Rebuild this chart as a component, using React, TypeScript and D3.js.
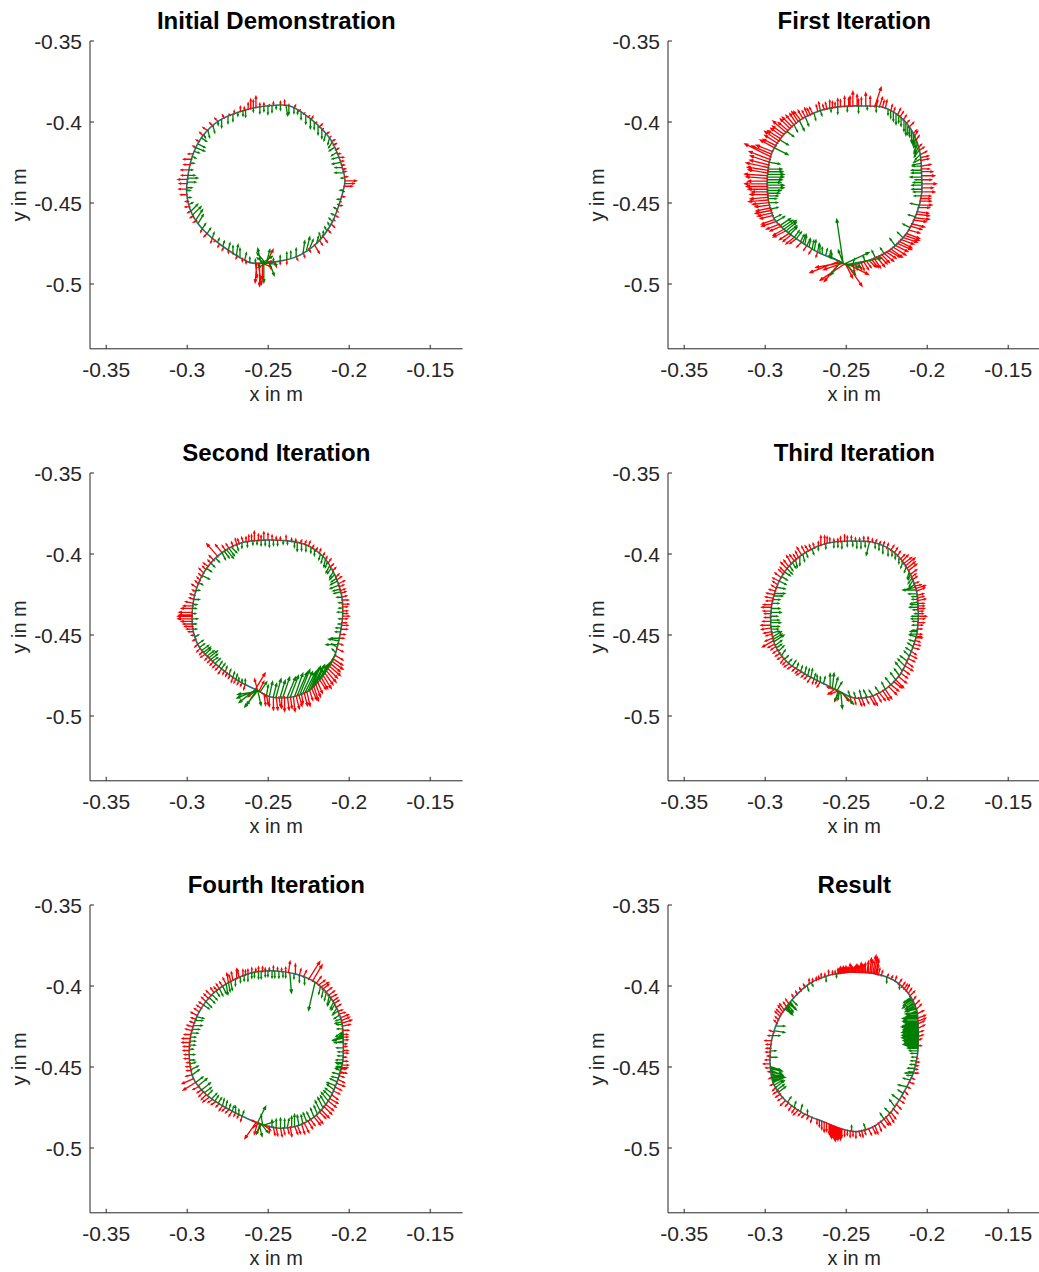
import React from 'react';
import * as d3 from 'd3';

type Pt = [number, number];
type Arrow = [number, number, number]; // [angle on path (deg), u (mm), v (mm)]

const titles = ['Initial Demonstration', 'First Iteration', 'Second Iteration', 'Third Iteration', 'Fourth Iteration', 'Result'];
const xTicks = [-0.35, -0.3, -0.25, -0.2, -0.15];
const xTickLabels = ['-0.35', '-0.3', '-0.25', '-0.2', '-0.15'];
const yTicks = [-0.5, -0.45, -0.4, -0.35];
const yTickLabels = ['-0.5', '-0.45', '-0.4', '-0.35'];
const xDomain: Pt = [-0.36, -0.13];
const yDomain: Pt = [-0.54, -0.35];

// ---------- Initial Demonstration (mm) ----------
const centerInitial: Pt = [-251, -438];
const pathInitial: Pt[] = [[-242.7,-389.5],[-236.5,-390.1],[-224.2,-397.7],[-211.9,-410.1],[-205.7,-423.5],[-202.6,-435.8],[-203.6,-442],[-206.7,-452.3],[-210.8,-462.5],[-220.1,-474.9],[-232.4,-483.1],[-244.8,-486.2],[-255,-487.2],[-261.2,-486.8],[-277.7,-477],[-290,-466.7],[-297.2,-456.4],[-300.3,-444],[-299.3,-431.7],[-296.2,-419.3],[-290,-408],[-279.8,-398.8],[-267.4,-393.6],[-255,-390.6]];
const redInitial: Arrow[] = [[2,7,0],[0,6,0],[-2,5,0],[5,2,0],[-10,2,0],[-17,2,0],[-25,2,-1],[-32,2,-2],[-43,3,-4],[-47,2,-3],[-52,3,-5],[-62,1,-3],[-75,0,-3],[-80,0,-2],[-84,1,-3],
[-95,0,-14],[-97,-1,-12],[-93,0,-10],[-96,2,-13],[-92,5,1],[-90,4,8],[-94,6,-2],[-98,1,-9],
[-105,0,-2],[-112,-1,-2],[-120,0,-2],[-128,-1,-2],[-135,-1,-3],[-140,-2,-2],[-145,-1,-2],[-152,-2,-1],[-160,-2,-1],[-167,-2,0],
[-172,-4,0],[-176,-5,0],[180,-5,0],[177,-6,0],[174,-4,0],[170,-5,0],[166,-4,0],[162,-5,0],[158,-3,0],[153,-2,1],[148,-2,1],[143,-2,2],[138,-3,2],[133,-2,2],[128,-2,2],[123,-1,2],
[115,0,2],[110,0,3],[104,0,4],[102,0,6],[100,0,5],[98,0,7],[92,0,2],[85,0,2],[80,0,2],[77,0,3],[70,1,2],[62,1,1],[55,1,2],[47,2,2],[40,2,1],[33,2,1],[26,2,1],[20,3,0],[14,2,0],[9,2,0],
[-6,1,0],[-14,1,0],[-21,1,-1],[-28,1,-1],[-37,2,-2],[-57,1,-2],[-68,1,-2],[-88,1,-4],[-108,0,-2],[-116,0,-1],[-124,-1,-2],[-132,-1,-1],[-156,-2,-1],[-163,-3,0],[118,-1,1],[107,0,2],[95,0,2],[88,0,1],[74,0,1],[66,1,1],[58,1,1],[51,1,1],[44,1,1],[36,1,1],[30,2,1],[23,2,0],[17,2,0],[11,2,0]];
const greenInitial: Arrow[] = [[8,-5,0],[12,-4,0],[16,-5,-1],[20,-4,-1],[24,-3,-2],[28,-3,-2],
[32,-2,-3],[36,-1,-4],[40,-1,-4],[44,0,-5],[48,0,-5],[52,0,-4],[56,0,-6],[60,0,-5],[64,0,-4],
[70,0,-3],[74,0,-5],[76,1,-6],[80,0,-3],[86,0,-4],[89,0,-5],[92,0,-3],[95,0,-4],[106,0,-4],[108,0,-3],
[116,0,-4],[120,0,-4],[125,0,-5],[133,1,-4],[138,1,-4],[145,3,-2],[150,4,-2],[153,5,-2],[156,3,-1],
[174,4,0],[176,6,0],[179,5,0],[183,3,0],[-170,2,0],
[-160,4,4],[-157,5,5],[-153,4,6],[-150,3,5],[-145,2,3],[-140,2,3],
[-125,1,3],[-120,1,4],[-116,0,4],[-113,1,6],[-110,0,5],[-106,1,4],[-102,0,3],
[-92,0,-12],[-91,-5,6],[-90,2,8],[-93,6,4],[-89,-6,-3],[-91,7,-1],[-94,-2,9],[-88,3,-8],[-92,-4,3],
[-80,0,3],[-75,0,4],[-72,0,4],[-68,0,5],[-62,1,7],[-59,2,8],[-56,2,5],[-50,1,4],[-45,-1,3],[-38,-1,2],[-30,-2,2],[-20,-2,1],[-12,-2,0],
[4,-2,0],[-5,-2,0],[-16,-1,0],[-25,-2,1],[-34,-1,2],[-42,0,2],[-85,0,2],[-98,0,2],[-130,1,2],[-135,1,3],[-165,2,1],[-175,2,0],[170,2,0],[165,2,0],[160,2,-1],[142,1,-2],[128,0,-2],[112,0,-2],[100,0,-2],[83,0,-2],[67,0,-2]];

// ---------- First Iteration ----------
const centerFirst: Pt = [-251, -439];
const pathFirst: Pt[] = [[-203.4,-433.8],[-204.4,-419.3],[-208.6,-406.9],[-216.7,-396.7],[-227,-391],[-239.4,-390.1],[-253.7,-390.5],[-266.2,-393],[-278.5,-398.8],[-288.8,-408],[-296,-419.3],[-298.7,-433.8],[-298.1,-448.1],[-294,-460.5],[-282.6,-470.8],[-268.2,-480],[-253.7,-486.2],[-249.7,-488.3],[-235.3,-485.2],[-223,-479],[-212.7,-468.7],[-206.5,-456.4],[-203.4,-444]];
const redFirst: Arrow[] = [[-5,8,0],[-2,7,0],[1,9,0],[4,6,0],[7,8,0],[10,7,0],[14,6,1],[18,5,1],[22,4,2],
[27,2,2],[32,2,3],[37,2,2],[42,3,3],[48,2,3],[53,2,4],[58,1,4],
[62,1,5],[66,2,6],[69,4,12],[72,0,6],[75,0,8],[78,0,5],[81,0,7],[84,0,9],[87,0,5],[90,0,6],[93,0,4],[97,0,3],[101,0,5],[105,-1,3],[110,-1,4],[114,-2,4],
[118,-2,5],[122,-3,5],[126,-4,6],[130,-5,6],[134,-6,6],[138,-8,7],[142,-7,5],[146,-9,6],[150,-8,4],
[155,-10,4],[159,-16,8],[163,-12,4],[167,-14,3],[171,-12,2],[175,-13,1],[179,-14,0],[183,-12,0],[187,-11,0],[191,-12,-1],[195,-9,-1],[199,-10,-2],[203,-8,-2],[208,-9,-3],[213,-7,-3],[218,-8,-4],[223,-5,-4],[228,-4,-3],[233,-3,-3],[238,-2,-3],[243,-2,-3],[248,-1,-3],
[266,-18,-7],[268,-16,-3],[270,-15,-10],[272,9,-13],[269,-12,-4],[271,4,-8],[267,-10,-12],[273,12,-6],
[276,1,-5],[280,2,-4],[284,3,-5],[288,4,-4],[292,4,-6],[296,5,-5],[300,6,-5],[304,7,-4],[308,8,-5],[312,9,-4],[316,8,-3],[320,9,-3],[325,7,-2],[330,8,-2],[335,9,-1],[340,7,-1],[345,8,0],[350,6,0],
[-8,6,0],[12,5,0],[20,5,1],[25,3,2],[35,2,3],[45,2,2],[51,2,3],[56,1,3],[64,1,4],[68,1,4],[80,0,4],[86,0,6],[95,0,5],[99,0,4],[103,-1,4],[108,-1,5],[116,-2,4],[120,-2,4],[124,-4,5],[128,-4,6],[132,-6,6],[136,-6,5],[140,-7,5],[144,-8,5],[148,-8,5],[152,-9,5],[157,-12,5],[161,-13,5],[165,-12,3],[169,-13,2],[173,-14,1],[177,-12,0],[181,-13,0],[185,-10,0],[189,-11,-1],[193,-10,-1],[197,-9,-2],[201,-9,-2],[206,-8,-3],[211,-8,-3],[216,-7,-4],[221,-6,-4],[226,-5,-4],[278,1,-4],[282,2,-5],[286,3,-4],[290,4,-5],[294,5,-6],[298,5,-5],[302,6,-4],[306,7,-5],[310,8,-4],[314,8,-4],[318,9,-3],[322,8,-3],[328,7,-2],[333,8,-1],[338,8,-1],[343,7,0],[348,7,0],[355,8,0]];
const greenFirst: Arrow[] = [[-8,-4,0],[-3,-6,0],[2,-5,0],[6,-7,0],[11,-6,0],[16,-5,-1],
[22,-3,-3],[27,-2,-4],[31,-1,-6],[35,-1,-5],[39,0,-7],[43,0,-5],[47,0,-6],[52,0,-4],[56,0,-5],[60,0,-3],
[68,0,-3],[74,0,-2],[80,0,-4],[88,0,-3],[95,0,-4],[100,0,-2],[108,1,-3],[113,1,-4],
[120,2,-5],[125,3,-6],[130,2,-4],[137,4,-3],[145,5,-3],[152,8,-4],
[163,6,-1],[168,8,0],[172,10,0],[176,9,0],[180,10,0],[184,8,0],[188,6,0],[193,5,0],[198,4,1],
[205,4,2],[212,6,4],[216,7,5],[220,5,4],[226,3,4],[232,2,4],[236,1,5],[240,1,4],[245,1,6],[250,0,5],[255,1,4],[260,0,3],
[269,-4,27],[270,15,7],[271,22,4],[268,-8,4],[272,5,-6],[267,-6,-8],[270,10,-2],[269,-3,8],
[276,1,3],[285,-1,3],[293,-2,4],[300,-2,3],[310,-3,4],[318,-3,3],[327,-4,2],[336,-4,1],[345,-5,1],[352,-4,0],
[-5,-5,0],[0,-6,0],[4,-4,0],[9,-6,0],[14,-5,0],[19,-4,-2],[25,-3,-4],[29,-2,-5],[33,-1,-5],[37,0,-6],[41,0,-5],[45,0,-7],[50,0,-5],[54,0,-6],[58,0,-4],[170,9,0],[174,10,0],[178,8,0],[182,10,0],[186,7,0],[190,5,0],[208,5,3],[214,6,4],[218,6,5],[222,4,4],[228,3,4],[234,2,5],[238,2,4],[243,1,5],[248,1,5],[252,0,4],[258,1,4]];

// ---------- Second Iteration ----------
const centerSecond: Pt = [-251, -440];
const pathSecond: Pt[] = [[-204,-437.7],[-204.7,-425.3],[-208.8,-413],[-216,-401.7],[-226.3,-394.4],[-238.6,-391.8],[-250.9,-391.4],[-265.4,-392.8],[-277.7,-398.6],[-288,-408.8],[-294.2,-421.2],[-296.9,-435.6],[-296.2,-448],[-292.1,-458.2],[-281.8,-468.5],[-269.4,-477.8],[-257.1,-484],[-248.9,-488.1],[-234.5,-488.1],[-224.2,-484],[-215.1,-473.7],[-208.8,-462.3],[-205.7,-450]];
const redSecond: Arrow[] = [[-15,3,0],[-8,4,0],[-3,3,0],[2,4,0],[6,3,0],[11,4,0],[16,3,1],[21,3,1],[26,4,2],[31,2,2],
[36,2,2],[42,2,3],[48,1,2],[54,1,2],[60,1,3],[66,1,2],
[72,0,2],[76,0,3],[80,0,2],[86,0,3],[92,0,5],[96,0,4],[99,0,6],[103,0,4],[107,-1,3],[112,-1,4],
[118,-2,3],[124,-4,5],[128,-7,8],[132,-3,3],[138,-3,2],[144,-3,3],[150,-2,2],[156,-3,2],
[162,-3,1],[168,-5,1],[172,-7,0],[175,-8,0],[178,-9,0],[182,-7,0],[186,-5,0],[190,-3,0],[196,-2,-1],
[204,-2,-2],[210,-3,-2],[216,-2,-2],[222,-2,-2],[228,-2,-3],[234,-1,-2],[240,-1,-3],[246,-1,-2],[252,-1,-3],
[261,6,10],[263,-2,7],[265,4,-3],[262,-5,-4],[264,3,6],
[270,1,-6],[275,0,-8],[279,1,-6],[283,0,-9],[287,1,-7],[291,2,-8],[295,1,-6],[299,2,-9],[303,3,-7],[307,3,-8],[311,4,-6],[315,5,-8],[319,6,-7],[323,7,-6],[327,7,-5],[332,5,-3],[337,4,-2],[341,3,-1],
[-12,3,0],[-5,4,0],[0,3,0],[4,3,0],[9,3,0],[14,4,0],[19,3,1],[24,3,1],[29,3,2],[39,2,2],[45,1,2],[51,1,3],[57,1,2],[63,1,2],[69,0,2],[83,0,2],[89,0,4],[94,0,3],[101,0,4],[105,0,3],[110,-1,3],[115,-1,3],[121,-2,3],[135,-2,2],[141,-2,2],[147,-2,2],[153,-2,2],[159,-2,1],[165,-3,1],[170,-6,0],[177,-8,0],[180,-9,0],[184,-6,0],[188,-4,0],[193,-2,0],[200,-2,-2],[207,-2,-2],[213,-2,-2],[219,-2,-2],[225,-2,-2],[231,-1,-2],[237,-1,-2],[243,-1,-2],[249,-1,-2],[268,1,-7],[272,0,-6],[277,1,-8],[281,0,-7],[285,1,-8],[289,1,-9],[293,2,-7],[297,2,-8],[301,2,-6],[305,3,-9],[309,3,-7],[313,4,-7],[317,5,-7],[321,6,-6],[325,6,-5],[329,6,-4]];
const greenSecond: Arrow[] = [[-20,-7,0],[-17,-6,1],[-10,-3,0],[-4,-2,0],[5,-3,0],[12,-2,0],[20,-4,-1],[25,-5,-2],[30,-3,-2],
[35,-2,-3],[40,-2,-4],[45,-1,-4],[50,-1,-3],[58,0,-3],[65,0,-4],[68,0,-5],
[75,0,-2],[82,0,-3],[88,0,-4],[94,0,-3],[100,0,-2],[108,0,-3],
[116,3,-3],[120,4,-5],[124,2,-4],[140,3,-2],[146,4,-2],
[165,3,0],[172,2,0],[180,3,0],[188,2,0],
[200,3,2],[206,4,3],[210,3,3],[214,5,4],[218,3,2],[225,2,3],[232,1,3],[240,1,3],[246,0,2],[252,0,3],
[262,-12,-5],[263,-8,-10],[264,-13,-2],[262,-6,-9],[265,4,6],[261,-10,-8],[263,2,-9],
[270,1,6],[275,2,8],[280,3,10],[285,5,12],[290,5,14],[294,6,15],[298,6,12],[302,6,14],[306,5,10],[311,5,9],[316,4,7],[322,3,5],[328,2,3],[334,-2,2],[338,-3,2],
[272,2,9],[277,3,11],[282,4,12],[287,5,13],[292,6,14],[296,6,13],[300,6,13],[304,6,12],[308,5,11],[313,5,8],[318,3,6],[-15,-5,0],[-7,-3,0],[0,-2,0],[8,-2,0],[16,-3,0],[22,-4,-1],[28,-4,-2],[33,-3,-3],[38,-2,-3],[43,-1,-3],[48,-1,-4],[55,0,-3],[62,0,-4],[70,0,-3],[78,0,-2],[85,0,-3],[91,0,-3],[97,0,-2],[104,0,-3],[112,1,-3],[118,3,-4],[122,3,-4],[130,2,-2],[135,2,-2],[152,2,-1],[158,2,0],[169,2,0],[176,2,0],[184,2,0],[194,2,1],[203,3,2],[208,4,3],[212,4,3],[216,4,3],[221,3,3],[228,2,3],[236,1,3],[243,1,3],[249,0,2]];

// ---------- Third Iteration ----------
const centerThird: Pt = [-251, -440];
const pathThird: Pt[] = [[-205.5,-437.7],[-206.5,-423.3],[-211.7,-409.9],[-220.9,-398.6],[-233.3,-392.8],[-247.7,-392],[-262.1,-393.4],[-274.4,-398.6],[-284.7,-406.8],[-292,-418.1],[-296,-431.5],[-296.6,-443.8],[-294,-456.2],[-286.7,-466.5],[-274.4,-474.7],[-262.1,-480.9],[-253.9,-485],[-245.7,-488.7],[-235.4,-488.1],[-225.1,-482.9],[-216.9,-474.7],[-210.7,-462.3],[-206.5,-450]];
const redThird: Arrow[] = [[-15,4,0],[-8,3,0],[-3,4,0],[2,5,0],[6,3,0],[10,4,0],[14,5,1],[18,4,1],[23,6,2],[27,3,1],
[32,3,2],[37,5,4],[41,6,5],[45,4,4],[50,2,3],[56,2,3],[62,1,3],
[68,1,2],[73,0,3],[79,0,2],[85,0,3],[90,0,4],[95,0,2],[101,0,3],[105,0,5],[108,0,6],[113,-1,3],
[118,-2,3],[124,-3,5],[129,-2,3],[134,-3,5],[139,-4,4],[144,-3,3],[150,-4,2],[156,-3,2],
[161,-5,1],[166,-4,0],[171,-6,0],[176,-4,0],[182,-5,0],[187,-6,-1],[192,-4,-1],[197,-7,-4],[202,-3,-2],
[208,-3,-2],[213,-2,-3],[219,-3,-2],[225,-2,-2],[231,-3,-2],[237,-2,-2],[243,-1,-3],[249,-2,-3],
[262,-4,-3],[264,-6,2],[266,-3,-6],[268,4,-5],[265,-5,-2],
[274,1,-4],[280,2,-5],[285,2,-4],[290,3,-6],[295,4,-5],[300,4,-6],[305,5,-4],[310,5,-5],[316,4,-3],[322,5,-3],[328,4,-2],[334,3,-2],[340,4,-1],[346,3,0],
[-12,3,0],[-5,3,0],[0,4,0],[4,3,0],[8,4,0],[12,4,0],[16,4,1],[21,5,2],[25,4,1],[30,3,2],[34,4,3],[39,5,4],[43,5,4],[47,3,3],[53,2,3],[59,1,3],[65,1,2],[70,0,2],[76,0,3],[82,0,2],[88,0,3],[93,0,3],[98,0,2],[103,0,4],[110,0,3],[116,-1,3],[121,-2,4],[127,-2,4],[131,-3,4],[137,-3,4],[142,-3,3],[147,-4,3],[153,-3,2],[158,-4,1],[164,-5,1],[169,-5,0],[174,-5,0],[179,-4,0],[185,-6,0],[190,-5,-1],[195,-5,-2],[200,-4,-2],[205,-3,-2],[211,-3,-2],[216,-2,-2],[222,-3,-2],[228,-2,-2],[234,-2,-2],[240,-2,-3],[246,-1,-2],[277,1,-4],[282,2,-5],[288,3,-5],[293,3,-5],[298,4,-6],[303,5,-5],[308,5,-4],[313,5,-4],[319,4,-3],[325,4,-3],[331,4,-2],[337,4,-1],[343,3,-1]];
const greenThird: Arrow[] = [[-12,-4,0],[-5,-3,0],[0,-4,0],[4,-2,0],[9,-5,0],[13,-4,-1],[17,-3,0],[22,-8,0],[26,-3,-2],
[31,-2,-3],[36,-1,-4],[44,-1,-3],[52,0,-3],[58,0,-4],[65,0,-3],[72,-2,-8],
[78,0,-4],[84,0,-3],[92,0,-4],[98,0,-3],[110,0,-2],
[120,1,-3],[126,0,-5],[130,1,-4],[136,2,-3],[142,3,-2],[150,4,-2],
[160,6,0],[165,4,0],[172,5,0],[178,4,0],[183,6,0],[188,4,0],[194,5,3],[198,6,4],[203,3,2],
[210,2,3],[218,2,2],[226,1,3],[234,1,4],[240,1,5],[246,0,3],[252,1,4],
[258,0,8],[260,1,9],[262,2,7],[265,-2,-6],[267,1,-10],[268,7,-7],[266,-1,-5],[264,3,5],
[274,-1,3],[282,-1,4],[290,-2,3],[300,-2,4],[310,-3,4],[318,-4,5],[326,-4,3],[334,-3,2],[342,-3,1],[350,-4,0],
[-9,-3,0],[-2,-3,0],[2,-4,0],[7,-3,0],[11,-4,0],[15,-3,0],[19,-5,0],[24,-5,-1],[29,-2,-3],[34,-1,-3],[40,-1,-3],[48,0,-3],[55,0,-3],[62,0,-4],[68,0,-3],[75,0,-3],[81,0,-4],[88,0,-3],[95,0,-3],[104,0,-3],[115,1,-3],[123,1,-4],[133,2,-3],[139,3,-3],[146,3,-2],[155,5,-1],[162,5,0],[168,4,0],[175,6,0],[181,5,0],[186,5,0],[191,4,1],[196,5,3],[201,4,3],[206,3,3],[214,2,2],[222,2,3],[230,1,3],[237,1,4],[243,1,3],[249,0,3],[278,-1,3],[286,-2,4],[295,-2,3],[305,-3,4],[314,-3,4],[322,-4,4],[330,-3,3],[338,-3,2],[346,-4,1]];

// ---------- Fourth Iteration ----------
const centerFourth: Pt = [-251, -439];
const pathFourth: Pt[] = [[-203.6,-436.4],[-204.6,-422],[-209.8,-409.7],[-220.1,-398.3],[-232.4,-392.8],[-244.8,-390.7],[-259.2,-391.6],[-271.5,-396.3],[-283.9,-404.5],[-293.1,-416.9],[-297.8,-430.2],[-298.7,-444.6],[-296.2,-457],[-288,-467.3],[-275.6,-475.5],[-263.3,-481.7],[-253,-485.8],[-242.7,-487.8],[-230.4,-485.8],[-220.1,-479.6],[-211.9,-469.3],[-206.7,-457],[-204,-446.7]];
const redFourth: Arrow[] = [[-18,3,0],[-12,4,0],[-6,2,0],[-1,3,0],[4,2,0],[9,3,0],[14,4,0],[19,6,2],[23,5,2],[28,3,1],
[34,3,2],[39,4,2],[44,4,3],[49,5,3],[53,3,4],[56,6,10],[59,7,11],[63,2,4],
[66,1,4],[69,0,6],[74,1,7],[76,0,3],[82,0,2],[88,0,2],[93,0,3],[98,0,2],[104,0,3],[108,0,4],
[113,0,6],[116,-1,5],[120,-1,6],[125,-2,3],[130,-2,2],[136,-3,3],[142,-3,3],[148,-3,2],[154,-4,2],[160,-3,1],
[166,-4,1],[172,-5,0],[178,-4,0],[184,-3,0],[190,-2,0],[196,-3,0],[202,-7,-3],[205,-8,-5],[209,-4,-2],
[214,-3,-3],[220,-4,-3],[226,-3,-2],[232,-2,-3],[238,-2,-2],[244,-1,-2],[250,-1,-3],
[262,-7,-10],[264,-4,-3],[266,-3,-6],[268,4,-3],[265,-5,2],[263,-2,-7],
[272,0,-4],[277,1,-5],[282,1,-4],[287,1,-6],[292,2,-5],[297,3,-6],[302,3,-4],[307,4,-5],[312,5,-5],[317,5,-4],[322,5,-3],[328,4,-2],[334,5,-2],[340,3,-1],[346,4,0],
[-15,3,0],[-9,3,0],[-3,3,0],[2,2,0],[7,3,0],[11,3,0],[17,5,1],[21,5,2],[26,4,1],[31,3,2],[36,3,2],[41,4,3],[47,4,3],[51,4,3],[79,0,2],[85,0,3],[91,0,2],[96,0,3],[101,0,3],[106,0,3],[111,-1,5],[118,-1,4],[122,-2,4],[128,-2,3],[133,-2,3],[139,-3,3],[145,-3,2],[151,-3,2],[157,-3,1],[163,-4,1],[169,-4,0],[175,-5,0],[181,-4,0],[187,-3,0],[193,-3,0],[199,-4,-1],[212,-3,-2],[217,-3,-3],[223,-3,-2],[229,-2,-2],[235,-2,-2],[241,-2,-3],[247,-1,-2],[275,1,-5],[280,1,-5],[285,1,-4],[290,2,-5],[295,2,-6],[300,3,-5],[305,4,-5],[310,4,-4],[315,5,-5],[320,5,-4],[325,4,-3],[331,4,-2],[337,4,-2],[343,4,-1]];
const greenFourth: Arrow[] = [[-14,-3,0],[-8,-4,0],[-2,-3,0],[5,-5,0],[8,-6,-1],[10,-5,-3],[12,-4,-4],[15,-3,0],[20,-4,-1],[25,-3,-2],
[30,-2,-3],[35,-2,-4],[40,-1,-5],[46,-1,-4],[54,-4,-17],[66,0,-4],[73,1,-12],
[78,0,-3],[84,0,-4],[89,0,-3],[94,0,-4],[99,0,-3],[104,0,-4],
[110,0,-3],[118,1,-5],[122,1,-6],[128,2,-4],[135,3,-3],[142,3,-3],
[155,4,-1],[162,5,0],[168,4,0],[174,3,0],[180,2,0],[188,3,0],[195,4,2],
[205,4,3],[212,5,4],[218,3,3],[225,2,3],[232,1,4],[238,1,3],[244,0,4],[250,1,3],
[263,5,10],[265,-2,-6],[266,4,-5],[267,-1,6],[264,2,-8],[268,6,2],
[274,0,4],[280,0,6],[285,1,5],[290,0,7],[296,-1,5],[302,-2,4],[308,-2,5],[314,-3,6],[320,-4,5],[326,-4,3],[332,-5,2],[338,-4,1],[344,-3,1],[350,-4,0],
[-11,-3,0],[-5,-3,0],[1,-4,0],[6,-5,-1],[9,-6,-2],[11,-5,-4],[13,-4,-3],[18,-3,0],[22,-3,-1],[28,-3,-2],[33,-2,-3],[38,-2,-4],[43,-1,-4],[49,-1,-4],[62,0,-4],[70,0,-3],[76,0,-3],[81,0,-4],[86,0,-4],[91,0,-3],[96,0,-4],[101,0,-3],[107,0,-3],[114,0,-4],[120,1,-5],[125,2,-4],[131,2,-3],[138,3,-3],[145,3,-2],[158,4,0],[165,4,0],[171,3,0],[177,3,0],[184,3,0],[191,3,1],[199,4,3],[208,5,4],[215,4,3],[222,3,3],[228,2,3],[235,1,4],[241,1,3],[247,0,3],[277,0,5],[283,0,5],[288,0,6],[293,-1,6],[299,-2,5],[305,-2,5],[311,-3,6],[317,-3,5],[323,-4,4],[329,-4,3],[335,-4,2],[341,-4,1],[347,-3,0]];

// ---------- Result ----------
const centerResult: Pt = [-251, -440];
const pathResult: Pt[] = [[-205.5,-429.2],[-206.5,-414.8],[-211.7,-404.5],[-220.9,-396.3],[-233.3,-392.2],[-247.7,-391.5],[-260,-393.2],[-272.3,-398.3],[-282.6,-407.6],[-290.9,-418.9],[-296,-433.3],[-297,-447.7],[-295,-460.1],[-287.8,-470.4],[-276.5,-478.6],[-264.1,-483.8],[-251.8,-488.5],[-243.5,-489.9],[-233.3,-486.9],[-223,-478.6],[-214.8,-466.2],[-208.6,-453.9],[-205.9,-441.5]];
const redResult: Arrow[] = [[-18,3,0],[-12,2,0],[-6,1,0],[8,2,1],[14,3,1],[20,4,2],[24,5,2],
[30,3,3],[36,2,3],[40,3,3],[44,2,4],[48,2,3],[54,1,3],[60,1,2],
[66,1,4],[69,2,10],[71,1,8],[73,0,7],[75,0,6],[77,0,5],[79,0,4],[81,0,5],[83,0,3],[85,0,4],[88,0,3],[91,0,4],[94,0,3],[97,0,2],[102,0,3],[108,0,3],[112,0,2],
[122,-1,2],[130,-1,2],[140,-2,3],[146,-3,4],[150,-3,3],[155,-2,2],
[165,-3,1],[172,-4,0],[178,-3,0],[184,-2,0],[190,-4,0],[196,-2,0],
[208,-2,-2],[214,-3,-2],[220,-3,-3],[226,-2,-3],[232,-3,-3],[238,-2,-2],[244,-1,-3],
[248,0,-3],[250,0,-4],[252,0,-5],[254,0,-6],[256,0,-5],[258,0,-6],[259,0,-7],[260,0,-8],[261,0,-7],[262,0,-8],[263,0,-9],[264,0,-7],[265,0,-8],[266,0,-6],[267,0,-7],[268,0,-5],[270,0,-4],[272,0,-3],[274,0,-4],[276,0,-3],[278,0,-4],[280,1,-3],[282,1,-4],[284,1,-3],[287,2,-4],
[290,2,-4],[295,2,-5],[300,3,-4],[305,3,-5],[310,3,-3],[318,3,-2],[326,2,-2],[334,3,-1],[342,2,0],
[64,1,3],[67,1,6],[68,2,9],[70,2,11],[72,1,9],[74,1,7],[76,0,5],[78,0,6],[80,0,4],[82,0,4],[84,0,3],[86,0,5],[87,0,3],[89,0,4],[90,0,3],[92,0,3],[93,0,4],[95,0,3],[99,0,2],[105,0,2],[110,0,2],[115,0,2],[118,0,3],[-15,2,0],[-9,2,0],[4,2,0],[11,3,1],[17,4,2],[22,5,2],[27,4,2],[33,3,3],[42,2,3],[46,2,3],[51,2,3],[57,1,2],[126,-1,2],[134,-1,2],[143,-2,3],[148,-3,4],[152,-3,3],[158,-2,2],[168,-3,0],[175,-3,0],[181,-3,0],[187,-3,0],[193,-3,0],[200,-2,-1],[205,-2,-1],[211,-3,-2],[217,-3,-2],[223,-2,-2],[229,-2,-3],[235,-2,-2],[241,-1,-2],[292,2,-5],[297,3,-4],[302,3,-5],[307,3,-4],[314,3,-3],[322,2,-2],[330,2,-1],[338,2,-1]];
const greenResult: Arrow[] = [[-20,-3,0],[-14,-4,0],[-8,-3,0],[-2,-4,0],[3,-6,0],[6,-8,0],[9,-7,0],[12,-10,0],[15,-9,0],[18,-10,0],[21,-8,0],[24,-9,0],[27,-7,0],[30,-6,-1],[33,-5,-3],[36,-6,-4],[39,-4,-3],
[50,0,-2],[60,0,-3],[96,0,-2],[104,0,-3],
[116,1,-2],[120,1,-3],[136,3,-3],[139,4,-4],[142,3,-5],[145,4,-3],
[160,5,0],[164,6,-1],[168,4,0],[180,3,0],[185,4,0],
[192,6,-2],[195,7,-3],[197,6,0],[199,8,-1],[201,5,1],[204,4,2],[208,5,4],[212,4,3],
[222,2,3],[228,1,3],[234,1,4],[240,0,3],[275,0,3],[285,-1,3],
[300,-2,3],[306,-3,3],[312,-3,4],[318,-4,3],[324,-3,2],[330,-5,1],[336,-4,1],[342,-5,0],
[0,-5,0],[2,-6,0],[4,-7,0],[5,-9,0],[7,-8,0],[8,-9,0],[10,-10,0],[11,-9,0],[13,-8,0],[14,-10,0],[16,-9,0],[17,-8,0],[19,-9,0],[20,-7,0],[22,-9,0],[23,-8,0],[25,-7,0],[26,-6,0],[28,-6,-1],[29,-5,-2],[31,-5,-2],[32,-6,-3],[34,-5,-3],[35,-4,-3],[37,-5,-3],[38,-3,-2],[-17,-3,0],[-11,-3,0],[-5,-3,0],[193,7,-2],[194,6,-1],[196,7,-2],[198,6,-1],[200,7,0],[202,6,1],[203,5,2],[206,5,3],[210,4,3],[138,3,-4],[140,4,-3],[141,3,-4],[143,3,-3],[144,4,-4]];

const panels = [
  { path: pathInitial, center: centerInitial, red: redInitial, green: greenInitial },
  { path: pathFirst, center: centerFirst, red: redFirst, green: greenFirst },
  { path: pathSecond, center: centerSecond, red: redSecond, green: greenSecond },
  { path: pathThird, center: centerThird, red: redThird, green: greenThird },
  { path: pathFourth, center: centerFourth, red: redFourth, green: greenFourth },
  { path: pathResult, center: centerResult, red: redResult, green: greenResult },
];

// Layout
const W = 1039, H = 1272;
const colX = [90, 668];
const rowY = [41, 473, 905];
const PX_PER_M = 1620;
const plotW = (xDomain[1] - xDomain[0]) * PX_PER_M;
const plotH = (yDomain[1] - yDomain[0]) * PX_PER_M;
const FONT = '"Liberation Sans", Arial, Helvetica, sans-serif';
const AX = '#262626';

function basePoint(path: Pt[], c: Pt, tDeg: number): Pt {
  const t = (tDeg * Math.PI) / 180;
  const d: Pt = [Math.cos(t), Math.sin(t)];
  let best = Infinity;
  const n = path.length;
  for (let i = 0; i < n; i++) {
    const p = path[i];
    const q = path[(i + 1) % n];
    const e: Pt = [q[0] - p[0], q[1] - p[1]];
    const w: Pt = [p[0] - c[0], p[1] - c[1]];
    const den = d[0] * e[1] - d[1] * e[0];
    if (Math.abs(den) < 1e-9) continue;
    const r = (w[0] * e[1] - w[1] * e[0]) / den;
    const s = (w[0] * d[1] - w[1] * d[0]) / den;
    if (r > 0 && s >= -1e-6 && s <= 1 + 1e-6 && r < best) best = r;
  }
  if (!isFinite(best)) best = 48;
  return [c[0] + best * d[0], c[1] + best * d[1]];
}

function Panel({ idx }: { idx: number }) {
  const col = idx % 2;
  const row = Math.floor(idx / 2);
  const ox = colX[col];
  const oy = rowY[row];
  const p = panels[idx];
  const x = d3.scaleLinear().domain(xDomain).range([0, plotW]);
  const y = d3.scaleLinear().domain(yDomain).range([plotH, 0]);
  const line = d3
    .line<Pt>()
    .x((d) => x(d[0] / 1000))
    .y((d) => y(d[1] / 1000))
    .curve(d3.curveCatmullRomClosed.alpha(0.5));

  const quiver = (arrows: Arrow[]) => {
    let s = '';
    for (const [t, u, v] of arrows) {
      const b = basePoint(p.path, p.center, t);
      const bx = x(b[0] / 1000), by = y(b[1] / 1000);
      const tx = x((b[0] + u) / 1000), ty = y((b[1] + v) / 1000);
      const dx = tx - bx, dy = ty - by;
      const len = Math.hypot(dx, dy);
      if (len < 0.1) continue;
      s += `M${bx.toFixed(2)},${by.toFixed(2)}L${tx.toFixed(2)},${ty.toFixed(2)}`;
      if (len > 3) {
        const a = Math.atan2(dy, dx);
        const h = Math.max(1.2, Math.min(3, 0.18 * len));
        const sp = (22 * Math.PI) / 180;
        const h1x = tx - h * Math.cos(a - sp), h1y = ty - h * Math.sin(a - sp);
        const h2x = tx - h * Math.cos(a + sp), h2y = ty - h * Math.sin(a + sp);
        s += `M${h1x.toFixed(2)},${h1y.toFixed(2)}L${tx.toFixed(2)},${ty.toFixed(2)}L${h2x.toFixed(2)},${h2y.toFixed(2)}`;
      }
    }
    return s;
  };

  return (
    <g transform={`translate(${ox},${oy})`}>
      <text x={plotW / 2} y={-12} textAnchor="middle" fontFamily={FONT} fontWeight="bold" fontSize={24} fill="#000">
        {titles[idx]}
      </text>
      <path d={line(p.path) || ''} fill="none" stroke="#24707f" strokeWidth={1.6} />
      <path d={quiver(p.red)} fill="none" stroke="#ff0000" strokeWidth={1.35} strokeLinecap="round" />
      <path d={quiver(p.green)} fill="none" stroke="#008000" strokeWidth={1.35} strokeLinecap="round" />
      <line x1={0} y1={0} x2={0} y2={plotH} stroke={AX} strokeWidth={1} />
      <line x1={0} y1={plotH} x2={plotW} y2={plotH} stroke={AX} strokeWidth={1} />
      {yTicks.map((t, i) => (
        <g key={'y' + i}>
          <line x1={0} x2={4} y1={y(t)} y2={y(t)} stroke={AX} strokeWidth={1} />
          <text x={-8} y={y(t) + 7.5} textAnchor="end" fontFamily={FONT} fontSize={21} fill={AX}>
            {yTickLabels[i]}
          </text>
        </g>
      ))}
      {xTicks.map((t, i) => (
        <g key={'x' + i}>
          <line x1={x(t)} x2={x(t)} y1={plotH} y2={plotH - 4} stroke={AX} strokeWidth={1} />
          <text x={x(t)} y={plotH + 28.5} textAnchor="middle" fontFamily={FONT} fontSize={21} fill={AX}>
            {xTickLabels[i]}
          </text>
        </g>
      ))}
      <text x={x(-0.25) + 8} y={plotH + 52} textAnchor="middle" fontFamily={FONT} fontSize={20} fill={AX}>
        x in m
      </text>
      <text transform={`translate(${-64},${plotH / 2}) rotate(-90)`} textAnchor="middle" fontFamily={FONT} fontSize={20} fill={AX}>
        y in m
      </text>
    </g>
  );
}

export default function App() {
  return (
    <svg width={W} height={H} style={{ position: 'absolute', left: 0, top: 0, background: '#fff' }}>
      <rect x={0} y={0} width={W} height={H} fill="#fff" />
      {panels.map((_, i) => (
        <Panel key={i} idx={i} />
      ))}
    </svg>
  );
}
